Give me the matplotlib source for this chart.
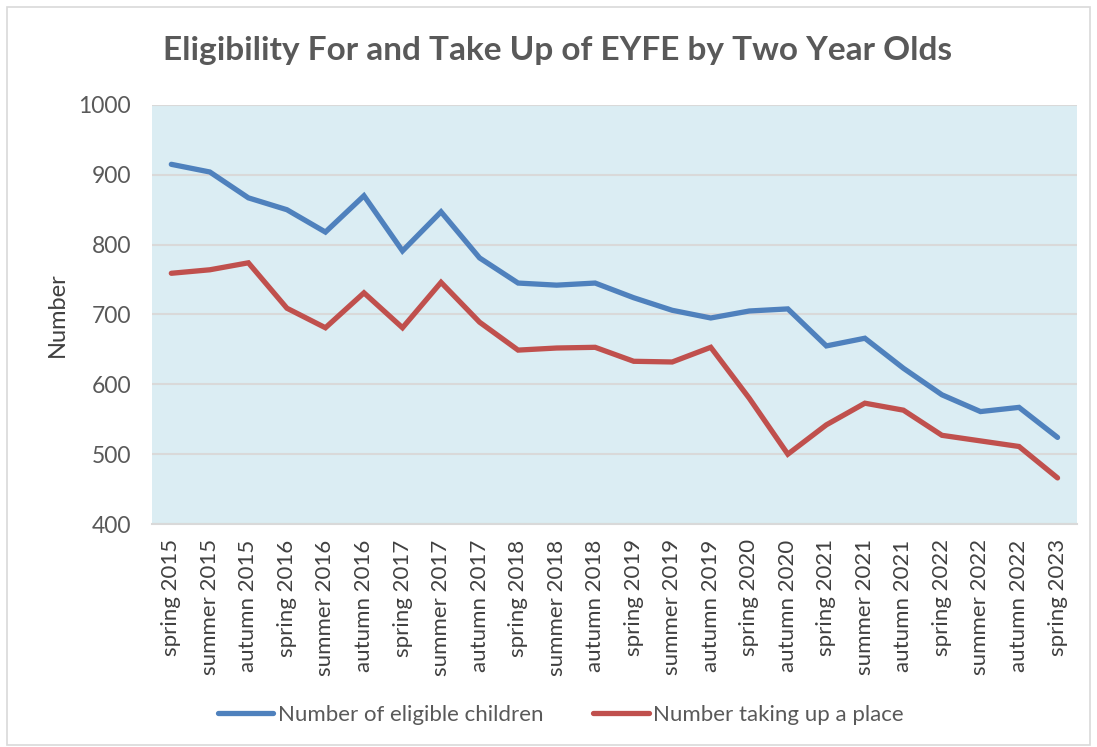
import matplotlib
matplotlib.use("Agg")
import matplotlib.pyplot as plt
from matplotlib.patches import Rectangle
from matplotlib.lines import Line2D

terms = ["spring 2015", "summer 2015", "autumn 2015", "spring 2016", "summer 2016",
         "autumn 2016", "spring 2017", "summer 2017", "autumn 2017", "spring 2018",
         "summer 2018", "autumn 2018", "spring 2019", "summer 2019", "autumn 2019",
         "spring 2020", "autumn 2020", "spring 2021", "summer 2021", "autumn 2021",
         "spring 2022", "summer 2022", "autumn 2022", "spring 2023"]

eligible = [915, 904, 867, 850, 818, 870, 791, 847, 781, 745, 742, 745,
            724, 706, 695, 705, 708, 655, 666, 623, 585, 561, 567, 524]
taking_up = [759, 764, 774, 709, 681, 731, 681, 746, 689, 649, 652, 653,
             633, 632, 653, 580, 500, 542, 573, 563, 527, 519, 511, 466]

plt.rcParams['font.family'] = ['Lato', 'DejaVu Sans']

fig = plt.figure(figsize=(10.97, 7.47), dpi=100)
ax = fig.add_axes([0.1386, 0.2985, 0.843, 0.561])

x = list(range(len(terms)))
blue = '#4f81bd'
red = '#c0504d'
ax.plot(x, eligible, color=blue, lw=3.8, solid_capstyle='round', solid_joinstyle='miter', zorder=3)
ax.plot(x, taking_up, color=red, lw=3.8, solid_capstyle='round', solid_joinstyle='miter', zorder=3)

ax.set_facecolor('#dbedf3')
ax.set_xlim(-0.5, len(terms) - 0.5)
ax.set_ylim(400, 1000)
ax.set_yticks(range(400, 1001, 100))
ax.grid(axis='y', color='#d9d9d9', lw=1.5)
ax.set_axisbelow(True)
for s in ['top', 'left', 'right']:
    ax.spines[s].set_visible(False)
ax.spines['bottom'].set_color('#d9d9d9')
ax.spines['bottom'].set_linewidth(1.5)

ax.set_xticks(x)
ax.set_xticklabels(terms, rotation=90, fontsize=16, color='#404040')
ax.tick_params(axis='x', length=0, pad=11)
ax.tick_params(axis='y', length=0, pad=15, labelsize=16.5, labelcolor='#595959')
ax.set_ylabel("Number", fontsize=17, color='#404040', labelpad=8)

fig.text(0.508, 0.933, "Eligibility For and Take Up of EYFE by Two Year Olds",
         ha='center', va='center', fontsize=24, fontweight='bold', color='#595959')

handles = [Line2D([], [], color=blue, lw=3.8, solid_capstyle='round'),
           Line2D([], [], color=red, lw=3.8, solid_capstyle='round')]
fig.legend(handles, ["Number of eligible children", "Number taking up a place"],
           loc='center', bbox_to_anchor=(0.511, 0.043), ncol=2, frameon=False,
           fontsize=16, labelcolor='#595959', handlelength=2.5, handletextpad=0.2,
           columnspacing=2.25)

fig.patches.append(Rectangle((0.0065, 0.003), 0.987, 0.987, transform=fig.transFigure,
                             fill=False, edgecolor='#d9d9d9', lw=1.2))

fig.savefig("out.png", dpi=100)
